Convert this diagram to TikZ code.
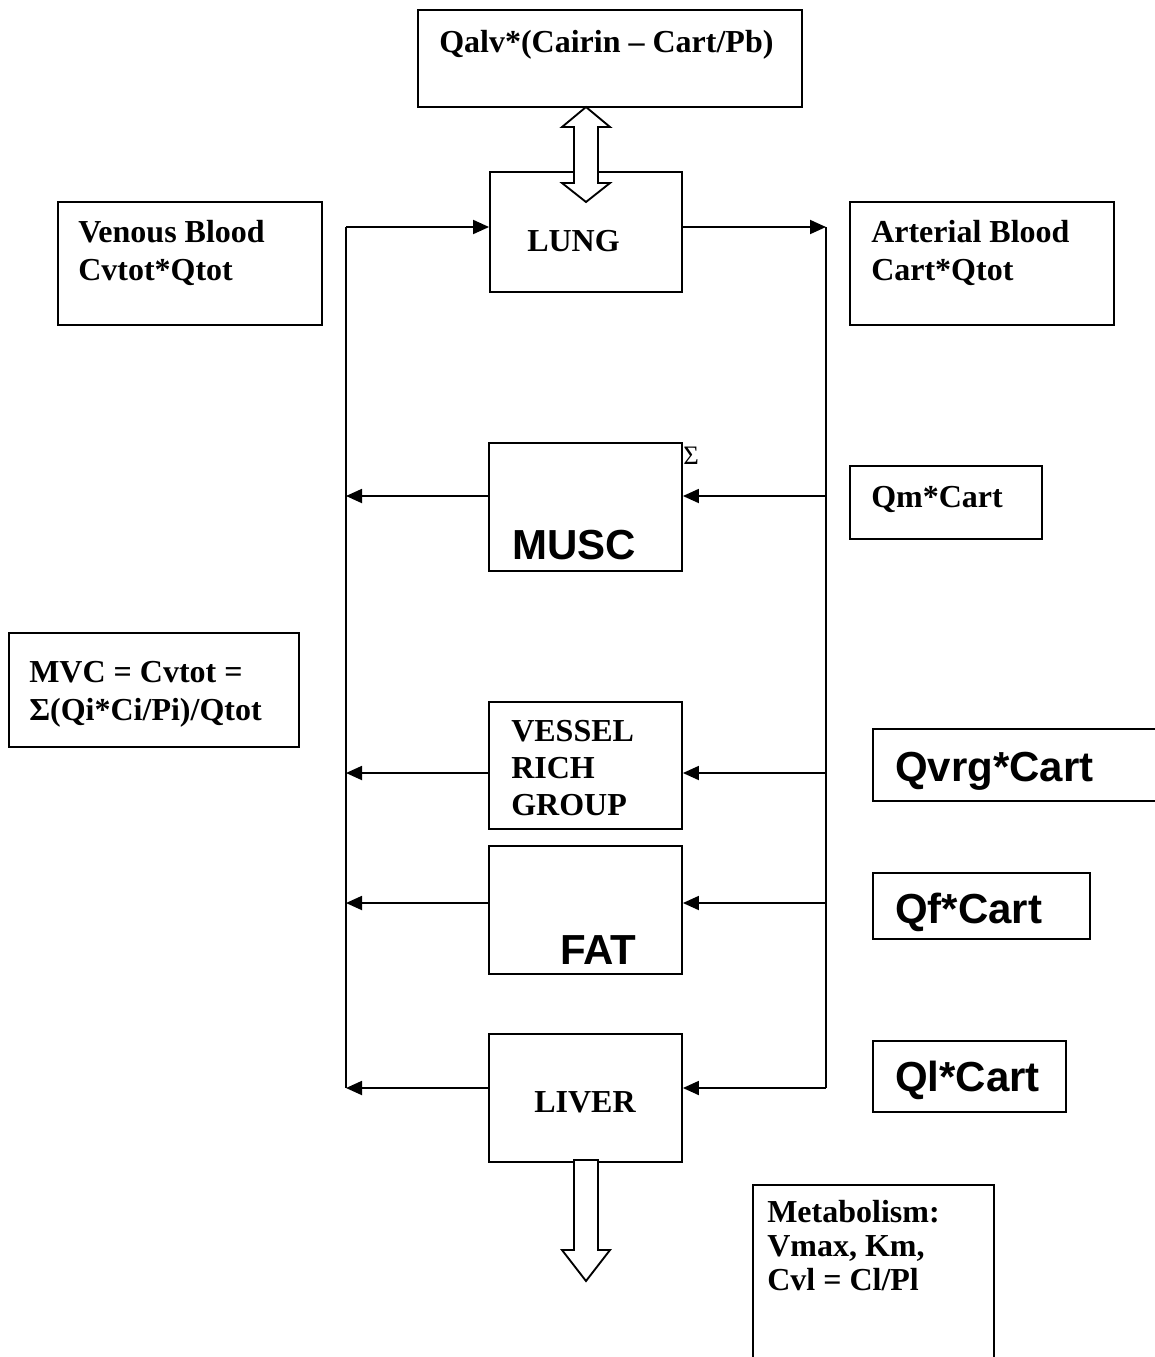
\documentclass[tikz,border=0pt]{standalone}
\usepackage{fontspec}
\setmainfont{Liberation Serif}
\setsansfont{Liberation Sans}
\usetikzlibrary{arrows.meta, positioning, fit}
\tikzset{
  compbox/.style={rectangle, draw=black, line width=1.4pt, fill=white, inner sep=0pt},
  serifbold/.style={font=\fontsize{24}{27.8}\selectfont\bfseries, align=left, anchor=base west, inner sep=0pt},
  sansbold/.style={font=\fontsize{31.5}{36}\selectfont\sffamily\bfseries, anchor=base west, inner sep=0pt},
  flow/.style={-{Triangle[length=12pt, width=10.5pt]}, line width=1.4pt},
  bloodline/.style={line width=1.4pt},
  widearrow/.style={draw=black, line width=1.4pt, fill=white, line join=miter}
}

\begin{document}
\begin{tikzpicture}[x=0.75pt, y=-0.75pt]
  \useasboundingbox (0,0) rectangle (1155,1357);
  \clip (0,0) rectangle (1155,1357);

  % Boxes
  \node[compbox, fit={(418,10) (802,107)}] (qalv) {};
  \node[compbox, fit={(490,172) (682,292)}] (lung) {};
  \node[compbox, fit={(58,202) (322,325)}] (venous) {};
  \node[compbox, fit={(850,202) (1114,325)}] (arterial) {};
  \node[compbox, fit={(489,443) (682,571)}] (musc) {};
  \node[compbox, fit={(850,466) (1042,539)}] (qm) {};
  \node[compbox, fit={(9,633) (299,747)}] (mvc) {};
  \node[compbox, fit={(489,702) (682,829)}] (vrg) {};
  \node[compbox, fit={(873,729) (1160,801)}] (qvrg) {};
  \node[compbox, fit={(489,846) (682,974)}] (fat) {};
  \node[compbox, fit={(873,873) (1090,939)}] (qf) {};
  \node[compbox, fit={(489,1034) (682,1162)}] (liver) {};
  \node[compbox, fit={(873,1041) (1066,1112)}] (ql) {};
  \node[compbox, fit={(753,1185) (994,1400)}] (metab) {};

  % Texts (multi-line ones sit on their last baseline)
  \node[serifbold] (qalvtxt) at (439,52) {Qalv*(Cairin – Cart/Pb)};
  \node[serifbold] (lungtxt) at (527,251) {LUNG};
  \node[serifbold] (venoustxt) at (78,280) {Venous Blood\\Cvtot*Qtot};
  \node[serifbold] (arterialtxt) at (871,280) {Arterial Blood\\Cart*Qtot};
  \node[serifbold] (qmtxt) at (871,507) {Qm*Cart};
  \node[serifbold] (mvctxt) at (29,720) {MVC = Cvtot =\\Σ(Qi*Ci/Pi)/Qtot};
  \node[serifbold, font=\fontsize{24}{27.4}\selectfont\bfseries] (vrgtxt) at (511,815) {VESSEL\\RICH\\GROUP};
  \node[serifbold] (livertxt) at (534,1112) {LIVER};
  \node[serifbold, font=\fontsize{24}{25.5}\selectfont\bfseries] (metabtxt) at (767,1290) {Metabolism:\\Vmax, Km,\\Cvl = Cl/Pl};
  \node[anchor=base west, inner sep=0pt, font=\fontsize{20}{24}\selectfont] (sigma) at (683,464) {Σ};
  \node[sansbold] (musctxt) at (512,559) {MUSC};
  \node[sansbold] (fattxt) at (560,964) {FAT};
  \node[sansbold] (qvrgtxt) at (895,781) {Qvrg*Cart};
  \node[sansbold] (qftxt) at (895,923) {Qf*Cart};
  \node[sansbold] (qltxt) at (895,1091) {Ql*Cart};

  % Blood lines
  \coordinate (vtop) at (346,227);
  \coordinate (vbot) at (346,1088);
  \coordinate (atop) at (826,227);
  \coordinate (abot) at (826,1088);
  \draw[bloodline] (vtop) -- (vbot);
  \draw[bloodline] (atop) -- (abot);
  \draw[flow] (vtop) -- (vtop -| lung.west);
  \draw[flow] (atop -| lung.east) -- (atop);

  \foreach \organ/\yy in {musc/496, vrg/773, fat/903, liver/1088} {
    \draw[flow] (atop |- 0,\yy) -- (\organ.east |- 0,\yy);
    \draw[flow] (\organ.west |- 0,\yy) -- (vtop |- 0,\yy);
  }

  % Wide arrows
  \draw[widearrow] (586,107) -- (610,127) -- (598,127) -- (598,183) -- (610,183) -- (586,202)
    -- (562,183) -- (574,183) -- (574,127) -- (562,127) -- cycle;
  \draw[widearrow] (574,1160) -- (574,1250) -- (562,1250) -- (586,1281) -- (610,1250)
    -- (598,1250) -- (598,1160) -- cycle;
\end{tikzpicture}
\end{document}
